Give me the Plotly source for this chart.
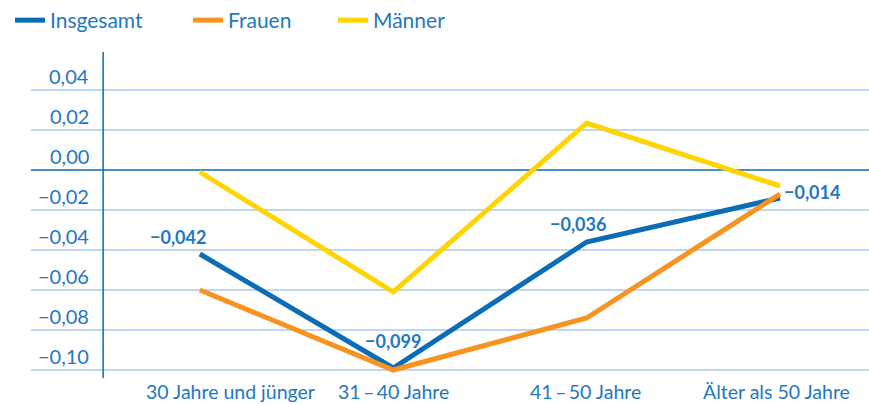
import plotly.graph_objects as go

categories = ["30 Jahre und jünger", "31\u2009–\u200940 Jahre", "41\u2009–\u200950 Jahre", "Älter als 50 Jahre"]
insgesamt = [-0.042, -0.099, -0.036, -0.014]
frauen = [-0.060, -0.100, -0.074, -0.012]
maenner = [-0.001, -0.061, 0.0235, -0.008]
y_ticks = [0.04, 0.02, 0.00, -0.02, -0.04, -0.06, -0.08, -0.10]

BLUE = "#0b6db5"
ORANGE = "#f7931e"
YELLOW = "#ffd400"
TEXT = "#1f78c0"
GRID = "#7eaee0"
FONT = "Lato"

x = list(range(len(categories)))

fig = go.Figure()
series = [("Insgesamt", insgesamt, BLUE, "legend"), ("Frauen", frauen, ORANGE, "legend2"),
          ("Männer", maenner, YELLOW, "legend3")]
for name, vals, col, lg in series:
    fig.add_trace(go.Scatter(x=x, y=vals, mode="lines", name=name, legend=lg,
                             line=dict(color=col, width=5), hoverinfo="skip"))

def fmt(v):
    s = f"{abs(v):.3f}".replace(".", ",")
    return ("\u2212" if v < 0 else "") + s

def fmt2(v):
    s = f"{abs(v):.2f}".replace(".", ",")
    return ("\u2212" if v < -1e-9 else "") + s

annotations = []
label_pos = [dict(xanchor="right", yanchor="bottom", xshift=8, yshift=4),
             dict(xanchor="center", yanchor="bottom", xshift=0, yshift=14),
             dict(xanchor="right", yanchor="bottom", xshift=21, yshift=5),
             dict(xanchor="left", yanchor="middle", xshift=2, yshift=6)]
for i, v in enumerate(insgesamt):
    annotations.append(dict(x=x[i], y=v, xref="x", yref="y", text="<b>" + fmt(v) + "</b>",
                            showarrow=False, font=dict(family=FONT, size=18, color=TEXT), **label_pos[i]))
for t in y_ticks:
    annotations.append(dict(x=-0.565, y=t, xref="x", yref="y", text=fmt2(t), showarrow=False,
                            xanchor="right", yanchor="bottom", yshift=0,
                            font=dict(family=FONT, size=20, color=TEXT)))
x_label_shift = [31, 0, -1, -4]
for i, c in enumerate(categories):
    annotations.append(dict(x=x[i], y=0, xref="x", yref="paper", text=c, showarrow=False,
                            xanchor="center", yanchor="top", yshift=0, xshift=x_label_shift[i],
                            font=dict(family=FONT, size=19.5, color=TEXT)))

shapes = []
for t in y_ticks:
    shapes.append(dict(type="line", xref="paper", yref="y", x0=0, x1=1, y0=t, y1=t,
                       line=dict(color=(BLUE if t == 0 else GRID), width=1.3 if t == 0 else 1), layer="below"))
shapes.append(dict(type="line", xref="x", yref="paper", x0=-0.5, x1=-0.5, y0=0, y1=1,
                   line=dict(color=BLUE, width=1.5), layer="below"))

leg = dict(orientation="h", xanchor="left", y=1.0, yanchor="top", yref="container", xref="container",
           font=dict(family=FONT, size=21, color=TEXT), itemwidth=30, bgcolor="rgba(0,0,0,0)")

fig.update_layout(
    width=869, height=404,
    margin=dict(l=31, r=0, t=52, b=26),
    paper_bgcolor="white", plot_bgcolor="white",
    font=dict(family=FONT, color=TEXT, size=17),
    xaxis=dict(range=[-0.873, 3.46], showgrid=False, zeroline=False, showticklabels=False,
               showline=False, fixedrange=True),
    yaxis=dict(range=[-0.104, 0.059], showgrid=False, zeroline=False, showticklabels=False,
               showline=False, fixedrange=True),
    showlegend=True,
    legend=dict(leg, x=10 / 869),
    legend2=dict(leg, x=188 / 869),
    legend3=dict(leg, x=333 / 869),
    annotations=annotations, shapes=shapes,
)
fig.write_html("out.html", config={"displayModeBar": False},
               post_script="document.body.style.margin='0';document.body.style.padding='0';")
